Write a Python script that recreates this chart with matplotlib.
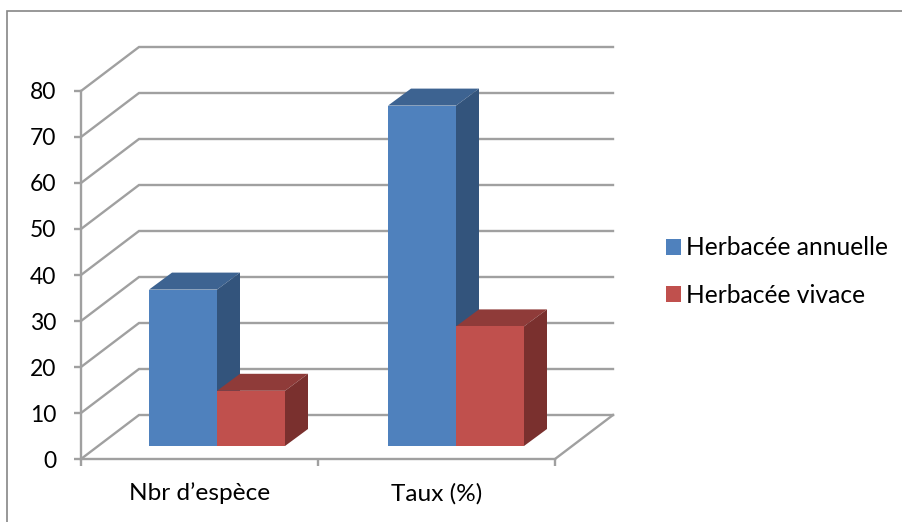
import matplotlib
matplotlib.use("Agg")
import matplotlib.pyplot as plt
from matplotlib.patches import Patch, Polygon, Rectangle

plt.rcParams["font.family"] = ["Lato", "DejaVu Sans"]

categories = ["Nbr d’espèce", "Taux (%)"]
series_names = ["Herbacée annuelle", "Herbacée vivace"]
annuelle = [34, 74]
vivace = [12, 26]
y_ticks = [0, 10, 20, 30, 40, 50, 60, 70, 80]

W, H = 903, 522
GRID = "#a0a0a0"
FRONT = ["#4f81bd", "#c0504d"]
TOP = ["#3d6391", "#8f3b39"]
SIDE = ["#33547c", "#7a302e"]

# axes box in pixels, the front plane of the fake 3d chart
left, right, top, bottom = 81, 555, 91, 459
px_x = 2 / (right - left)
px_y = 80 / (bottom - top)
depth_x = 58 * px_x
depth_y = 44 * px_y


def draw_bar(ax, x, value, width, base, i):
    dx = 23 * px_x
    dy = 17 * px_y
    y1 = base + value
    ax.add_patch(Polygon([(x, y1), (x + width, y1), (x + width + dx, y1 + dy), (x + dx, y1 + dy)],
                         color=TOP[i], lw=0, clip_on=False, zorder=3))
    ax.add_patch(Polygon([(x + width, base), (x + width + dx, base + dy), (x + width + dx, y1 + dy), (x + width, y1)],
                         color=SIDE[i], lw=0, clip_on=False, zorder=3))
    ax.bar(x, value, width=width, bottom=base, align="edge", color=FRONT[i], lw=0, clip_on=False, zorder=3)


fig = plt.figure(figsize=(W / 100, H / 100), dpi=100)
ax = fig.add_axes([left / W, 1 - bottom / H, (right - left) / W, (bottom - top) / H])
ax.set_xlim(0, 2)
ax.set_ylim(0, 80)
ax.patch.set_alpha(0)

# chart frame, cut by the picture on the right and at the bottom
fig.add_artist(Rectangle((7 / W, -0.05), 1, 1 - 11 / H + 0.05, transform=fig.transFigure,
                         fill=False, edgecolor="#868686", lw=1.2))

# walls and floor
for v in y_ticks:
    ax.plot([0, depth_x, 2 + depth_x], [v, v + depth_y, v + depth_y], color=GRID, lw=1.7,
            clip_on=False, zorder=1, solid_joinstyle="miter")
ax.plot([2, 2 + depth_x], [0, depth_y], color=GRID, lw=1.7, clip_on=False, zorder=1)

for s in ["top", "right"]:
    ax.spines[s].set_visible(False)
for s in ["left", "bottom"]:
    ax.spines[s].set_color(GRID)
    ax.spines[s].set_linewidth(1.7)

ax.set_yticks(y_ticks)
ax.set_xticks([0, 1, 2])
ax.set_xticklabels([])
ax.set_xticks([0.5, 1.5], minor=True)
ax.set_xticklabels(categories, minor=True)
ax.tick_params(axis="both", which="major", color=GRID, width=1.7, length=5, labelsize=16.5, labelcolor="black")
ax.tick_params(axis="y", pad=13)
ax.tick_params(axis="x", which="minor", length=0, labelsize=17.6, pad=17)

# bars stand a bit behind the front plane
bar_w = 68 * px_x
base = 13 * px_y
starts = [(149 - left) * px_x, (388 - left) * px_x]
for i, values in enumerate([annuelle, vivace]):
    for x, v in zip(starts, values):
        draw_bar(ax, x + i * bar_w, v, bar_w, base, i)

handles = [Patch(color=c, lw=0) for c in FRONT]
leg = fig.legend(handles, series_names, loc="upper left", bbox_to_anchor=(659 / W, 1 - 229 / H),
                 frameon=False, fontsize=17.7, handlelength=0.61, handleheight=0.61,
                 handletextpad=0.2, labelspacing=1.0, borderpad=0.3, borderaxespad=0)

fig.savefig("out.png", dpi=100)
